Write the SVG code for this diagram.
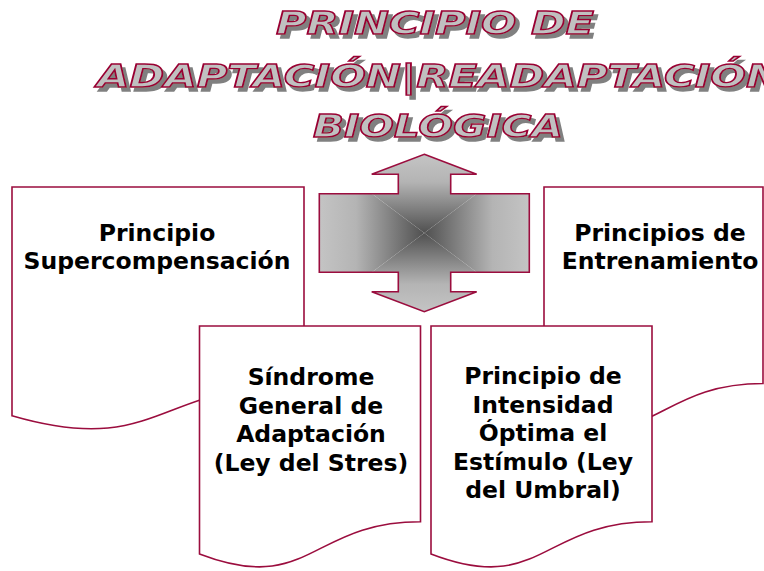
<svg xmlns="http://www.w3.org/2000/svg" width="764" height="571" viewBox="0 0 764 571">
<style>
.doc{fill:#ffffff;stroke:#9b0d3e;stroke-width:1.6;stroke-linejoin:miter}
.lbl{font-family:"DejaVu Sans",Verdana,sans-serif;font-weight:bold;font-size:23.5px;fill:#000;text-anchor:middle}
.ttl{font-family:"DejaVu Sans",Verdana,sans-serif;font-weight:bold;font-style:oblique;font-size:31.5px;fill:#c0c0c0;stroke:#990033;stroke-width:1.4}
</style>
<defs>
<filter id="shadow" x="-5%" y="-30%" width="115%" height="170%">
<feOffset in="SourceAlpha" dx="4" dy="4" result="off"/>
<feFlood flood-color="#808080"/>
<feComposite in2="off" operator="in" result="sh"/>
<feMerge><feMergeNode in="sh"/><feMergeNode in="SourceGraphic"/></feMerge>
</filter>
<linearGradient id="gL" gradientUnits="userSpaceOnUse" x1="319.3" y1="0" x2="424.3" y2="0"><stop offset="0" stop-color="#c4c4c4"/><stop offset="0.35" stop-color="#b4b4b4"/><stop offset="1" stop-color="#505050"/></linearGradient>
<linearGradient id="gR" gradientUnits="userSpaceOnUse" x1="529.3" y1="0" x2="424.3" y2="0"><stop offset="0" stop-color="#c4c4c4"/><stop offset="0.35" stop-color="#b4b4b4"/><stop offset="1" stop-color="#505050"/></linearGradient>
<linearGradient id="gT" gradientUnits="userSpaceOnUse" x1="0" y1="154.3" x2="0" y2="233"><stop offset="0" stop-color="#c4c4c4"/><stop offset="0.35" stop-color="#b4b4b4"/><stop offset="1" stop-color="#505050"/></linearGradient>
<linearGradient id="gB" gradientUnits="userSpaceOnUse" x1="0" y1="311.7" x2="0" y2="233"><stop offset="0" stop-color="#c4c4c4"/><stop offset="0.35" stop-color="#b4b4b4"/><stop offset="1" stop-color="#505050"/></linearGradient>
<clipPath id="arrowClip"><path d="M424.3,154.3 L476.7,174.3 H450.7 V193.7 H529.3 V272.3 H450.7 V291.7 H476.7 L424.3,311.7 L371.7,291.7 H398.3 V272.3 H319.3 V193.7 H398.3 V174.3 H371.7 Z"/></clipPath>
</defs>
<rect width="764" height="571" fill="#ffffff"/>

<g id="title" filter="url(#shadow)">
<text class="ttl" x="276" y="34" textLength="318" lengthAdjust="spacingAndGlyphs">PRINCIPIO DE</text>
<text class="ttl" x="97" y="87" textLength="684" lengthAdjust="spacingAndGlyphs">ADAPTACIÓN|READAPTACIÓN</text>
<text class="ttl" x="313" y="137" textLength="250" lengthAdjust="spacingAndGlyphs">BIOLÓGICA</text>
</g>

<g id="node-supercompensacion">
<path class="doc" d="M12,187 H304 V383.5 C158,383.5 158,458.3 12,415.8 Z"/>
<text class="lbl" x="157" y="241">Principio</text>
<text class="lbl" x="157" y="269">Supercompensación</text>
</g>

<g id="node-entrenamiento">
<path class="doc" d="M544,187 H763 V383.5 C653.5,383.5 653.5,458.3 544,415.8 Z"/>
<text class="lbl" x="660" y="241">Principios de</text>
<text class="lbl" x="660" y="269">Entrenamiento</text>
</g>

<g id="node-sindrome">
<path class="doc" d="M199.5,326 H420.5 V521.7 C310,521.7 310,596.2 199.5,553.9 Z"/>
<text class="lbl" x="311" y="385">Síndrome</text>
<text class="lbl" x="311" y="413.5">General de</text>
<text class="lbl" x="311" y="442">Adaptación</text>
<text class="lbl" x="311" y="470.5">(Ley del Stres)</text>
</g>

<g id="node-intensidad">
<path class="doc" d="M431,326 H652 V521.7 C541.5,521.7 541.5,596.2 431,553.9 Z"/>
<text class="lbl" x="543" y="384">Principio de</text>
<text class="lbl" x="543" y="412.5">Intensidad</text>
<text class="lbl" x="543" y="441">Óptima el</text>
<text class="lbl" x="543" y="469.5">Estímulo (Ley</text>
<text class="lbl" x="543" y="498">del Umbral)</text>
</g>

<g id="connectors">
<g clip-path="url(#arrowClip)">
<polygon points="319.3,154.3 529.3,154.3 424.3,233" fill="url(#gT)"/>
<polygon points="319.3,311.7 529.3,311.7 424.3,233" fill="url(#gB)"/>
<polygon points="319.3,154.3 319.3,311.7 424.3,233" fill="url(#gL)"/>
<polygon points="529.3,154.3 529.3,311.7 424.3,233" fill="url(#gR)"/>
</g>
<path d="M424.3,154.3 L476.7,174.3 H450.7 V193.7 H529.3 V272.3 H450.7 V291.7 H476.7 L424.3,311.7 L371.7,291.7 H398.3 V272.3 H319.3 V193.7 H398.3 V174.3 H371.7 Z" fill="none" stroke="#9b0d3e" stroke-width="1.6"/>
</g>
</svg>
